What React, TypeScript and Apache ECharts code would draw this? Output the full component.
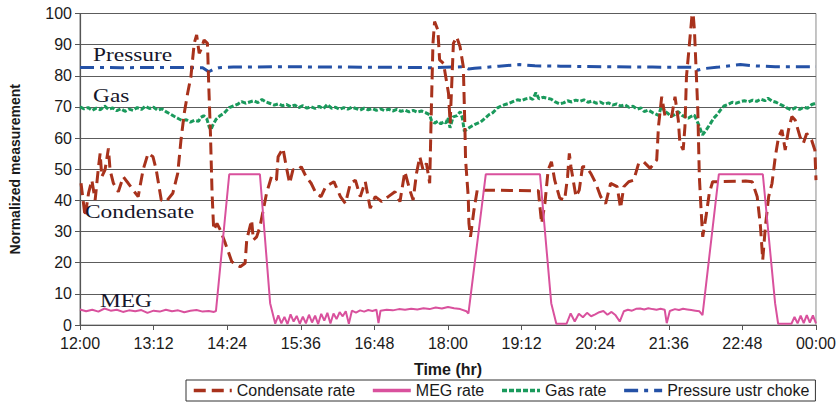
import React, { useEffect, useRef } from "react";
import * as echarts from "echarts";

// Time is in minutes of the day (720 = 12:00, 1440 = 00:00)
const condensateRate: [number, number][] = [
  [721, 45.5], [725, 34.8], [728.4, 42.4], [731.6, 46.5], [734.8, 40.1], [738.1, 50.8], [739.7, 55.1],
  [741.3, 47.6], [744.5, 49.8], [747.8, 56.7], [749.4, 49.8], [752.7, 45.5], [757.5, 42.8], [762.3, 47.6],
  [767.2, 45.5], [772, 43.3], [776.9, 41.2], [781.7, 49.8], [786.6, 55.1], [791.4, 54], [794.6, 49.8],
  [799.5, 40.1], [804.3, 39.6], [810.8, 42.3], [815.6, 48.7], [818.8, 59.4], [822, 68], [825.3, 74.4],
  [828.5, 79.7], [831.7, 90.4], [834.1, 93.1], [836.6, 87.2], [838.2, 88.3], [841.4, 91.5], [844.7, 90.4],
  [846, 76.5], [847.6, 61.6], [849.2, 42.3], [850.8, 30.5], [854, 32.6], [857.3, 30.5], [862.2, 26.2],
  [868.5, 20.3], [876.7, 18.7], [881.5, 19.8], [883.1, 27.3], [887.9, 33.7], [889.6, 27.3], [892.8, 28.3],
  [896.1, 31.6], [899.3, 36.9], [902.5, 42.3], [907.3, 47.6], [912.2, 46.5], [913.8, 54], [918.6, 56.7],
  [921.8, 50.8], [925.1, 45.5], [928.3, 49.8], [933.2, 49.8], [936.4, 50.8], [941.2, 47.6], [946.1, 45.5],
  [950.9, 42.3], [955.8, 41.2], [960.3, 44.4], [968.4, 46], [974.8, 41.2], [979.7, 39], [984.5, 45.5],
  [989.4, 46.5], [994.2, 41.2], [999.1, 46], [1003.9, 37.5], [1008.8, 41.2], [1015.2, 39.6], [1021.6, 41.2],
  [1028.1, 42.8], [1033, 39.6], [1037.8, 49.2], [1042.7, 43.3], [1045.9, 40.1], [1049.2, 48.7], [1052.4, 54],
  [1055.6, 49.8], [1058.9, 51.9], [1062.1, 45.5], [1063.7, 69], [1065.3, 90.4], [1066.9, 97.4], [1070.1, 94.7],
  [1071.8, 85.1], [1075.6, 84], [1080.5, 74.4], [1082.1, 64.7], [1085.3, 90.4], [1088.5, 92.5], [1091.8, 89.3],
  [1095, 82.9], [1096.6, 62.6], [1097.2, 53], [1099.8, 41.2], [1100.5, 32.6], [1102, 28.3], [1105.4, 36.9],
  [1108.6, 43.3], [1111.8, 43.3], [1168.4, 43.1], [1171.6, 32.6], [1174.8, 39], [1178, 49.8], [1181.2, 52.4],
  [1184.4, 46.5], [1189.3, 40.7], [1194.1, 40.1], [1197, 47.6], [1198.7, 55.1], [1200.3, 50.8], [1205.2, 41.2],
  [1208.4, 43.3], [1211.6, 50.8], [1214.9, 50.8], [1219.7, 48.7], [1224.6, 45.5], [1229.4, 41.2], [1234.2, 39],
  [1239.1, 45.5], [1245.5, 44.4], [1248.8, 37.5], [1252, 44.4], [1256.8, 46], [1261.7, 46.5], [1266.5, 51.9],
  [1271.4, 52.4], [1277.8, 50.3], [1284.2, 53], [1285.9, 63.7], [1289.1, 73.3], [1292.4, 66.9], [1298.8, 66.9],
  [1302.1, 73.3], [1305.3, 65.8], [1306.9, 58.3], [1310.1, 56.2], [1311.8, 63.7], [1313.3, 79.7], [1318.6, 99],
  [1319.8, 100], [1321.1, 94.7], [1324.4, 69], [1325.9, 47.6], [1327.6, 36.9], [1329.2, 28.3], [1332.4, 34.8],
  [1335.6, 42.3], [1338.9, 46], [1343.7, 46], [1371.2, 46.2], [1377.6, 46], [1382.5, 41.2], [1385.7, 31.6],
  [1387.9, 20.9], [1390.5, 31.6], [1393.7, 41.2], [1397, 45.5], [1400.2, 54], [1403.4, 60.4], [1406.7, 62.6],
  [1409.9, 56.2], [1413.1, 62.6], [1416.4, 66.9], [1419.6, 65.8], [1424.4, 60.4], [1427.6, 58.3], [1430.9, 61.5],
  [1435.7, 59.4], [1438.9, 56.2], [1440, 46.5],
];

const megRate: [number, number][] = [
  [720, 5.0], [726, 4.4], [732, 4.9], [738, 4.3], [744, 5.3], [750, 4.6], [756, 4.9], [762, 4.2], [768, 4.7],
  [774, 4.4], [780, 4.8], [786, 3.9], [792, 4.6], [798, 4.3], [804, 4.9], [810, 4.4], [816, 4.7], [822, 4.1],
  [828, 4.6], [834, 4.8], [840, 4.3], [846, 4.5], [851, 4.2], [853, 4.5], [866, 48.4], [896, 48.4], [906, 7],
  [911, 0.4], [914, 3.1], [917, 0.5], [920, 2.6], [923, 0.3], [926, 3.4], [929, 1.1], [932, 2.9], [935, 0.4],
  [938, 2.7], [941, 0.5], [944, 3.3], [947, 0.8], [950, 3.0], [953, 0.3], [956, 3.6], [959, 1.4], [962, 3.9],
  [965, 0.5], [968, 3.7], [971, 1.9], [974, 4.1], [977, 2.8], [980, 4.4], [983, 0.4], [986, 4.6], [990, 4.0],
  [994, 4.7], [998, 4.3], [1002, 4.8], [1006, 4.5], [1010, 4.9], [1012, 0.6], [1014, 4.6], [1020, 4.9],
  [1026, 4.7], [1032, 5.1], [1038, 4.9], [1044, 5.2], [1050, 5.0], [1056, 5.4], [1062, 5.1], [1068, 5.6],
  [1074, 5.3], [1080, 5.8], [1086, 5.4], [1092, 5.1], [1098, 4.4], [1100, 3.7], [1117, 48.4], [1170, 48.4],
  [1181, 7], [1186, 0.4], [1196, 0.4], [1200, 3.7], [1204, 1.1], [1208, 3.6], [1212, 2.5], [1216, 3.9],
  [1220, 2.8], [1224, 3.4], [1228, 4.1], [1232, 4.5], [1236, 3.3], [1240, 4.2], [1244, 3.1], [1248, 1.1],
  [1252, 4.4], [1256, 4.9], [1260, 4.6], [1264, 5.2], [1268, 5.3], [1272, 5.0], [1276, 5.4], [1280, 5.1],
  [1284, 4.9], [1288, 5.2], [1292, 4.9], [1294, 0.6], [1297, 4.5], [1302, 5.1], [1306, 4.8], [1310, 5.2],
  [1314, 5.0], [1318, 4.8], [1322, 4.6], [1326, 4.4], [1329, 3.2], [1345, 48.4], [1388, 48.4], [1400, 7],
  [1403, 0.4], [1416, 0.4], [1419, 2.6], [1422, 0.5], [1425, 3.0], [1428, 0.6], [1431, 3.2], [1434, 0.8],
  [1437, 3.1], [1440, 0.5],
];

const gasRate: [number, number][] = [
  [720, 70.0], [724, 69.4], [728, 69.8], [732, 68.9], [736, 69.6], [740, 69.1], [744, 70.3], [748, 69.2],
  [752, 69.7], [756, 68.8], [760, 69.4], [764, 68.6], [768, 69.3], [772, 68.9], [776, 69.8], [780, 69.2],
  [784, 70.2], [788, 69.5], [792, 69.9], [796, 68.9], [800, 69.4], [804, 68.5], [808, 67.8], [812, 67.0],
  [816, 66.3], [820, 65.6], [824, 65.9], [828, 65.1], [832, 65.7], [836, 65.4], [838, 66.6], [841, 67.2],
  [844, 66.2], [846.5, 63.5], [848, 62.6], [850, 64.2], [853, 66.0], [857, 67.2], [861, 68.0], [866, 69.8],
  [870, 70.3], [874, 70.8], [878, 71.7], [882, 71.2], [886, 71.6], [890, 72.0], [894, 71.4], [898, 72.4],
  [902, 71.6], [906, 71.1], [910, 70.6], [914, 71.0], [918, 70.4], [922, 70.8], [926, 70.1], [930, 70.6],
  [934, 69.8], [938, 70.4], [942, 69.6], [946, 70.1], [950, 69.5], [954, 70.2], [958, 69.4], [962, 70.8],
  [966, 69.6], [970, 69.9], [974, 69.2], [978, 69.8], [982, 69.3], [986, 69.9], [990, 69.5], [994, 69.0],
  [998, 69.6], [1002, 69.1], [1006, 69.5], [1010, 68.9], [1014, 69.4], [1018, 68.8], [1022, 69.3],
  [1026, 68.7], [1030, 69.2], [1034, 68.6], [1038, 69.0], [1042, 68.4], [1046, 68.9], [1050, 68.3],
  [1054, 68.7], [1058, 68.2], [1062, 67.5], [1064, 65.5], [1067, 64.8], [1070, 65.4], [1073, 64.6],
  [1076, 65.3], [1078, 64.8], [1080, 66.5], [1082, 63.3], [1085, 66.8], [1089, 67.2], [1092, 68.5],
  [1094, 66.5], [1096, 62.2], [1099, 63.0], [1103, 63.8], [1107, 64.5], [1112, 65.2], [1116, 66.3],
  [1120, 67.5], [1124, 68.2], [1128, 69.6], [1132, 70.3], [1136, 70.8], [1140, 71.2], [1144, 71.8],
  [1148, 72.3], [1152, 72.0], [1156, 72.6], [1160, 72.9], [1163, 72.4], [1166, 74.6], [1169, 72.6],
  [1173, 73.1], [1177, 72.8], [1181, 72.5], [1185, 71.6], [1189, 71.0], [1193, 71.3], [1197, 72.0],
  [1201, 71.6], [1205, 72.2], [1209, 71.8], [1213, 72.3], [1217, 71.5], [1221, 71.9], [1225, 71.2],
  [1229, 71.6], [1233, 70.9], [1237, 71.3], [1241, 70.6], [1245, 71.0], [1249, 70.3], [1253, 70.7],
  [1257, 69.9], [1261, 70.2], [1265, 69.3], [1269, 69.7], [1272, 68.5], [1276, 69.0], [1280, 68.2],
  [1284, 67.6], [1286, 67.3], [1289, 70.4], [1292, 68.6], [1295, 68.0], [1298, 66.9], [1302, 67.6],
  [1305, 68.5], [1309, 67.3], [1312, 66.8], [1315, 66.4], [1318, 67.0], [1321, 67.4], [1325, 64.5],
  [1329, 61.0], [1333, 62.8], [1337, 64.8], [1340, 66.4], [1344, 67.8], [1347, 69.2], [1350, 70.3],
  [1354, 70.8], [1358, 71.5], [1362, 71.2], [1366, 71.7], [1370, 72.0], [1374, 71.6], [1378, 72.2],
  [1382, 71.8], [1386, 72.5], [1390, 72.0], [1393, 72.8], [1397, 71.9], [1401, 71.5], [1405, 70.8],
  [1409, 70.2], [1412, 69.6], [1416, 69.0], [1420, 69.8], [1424, 69.2], [1428, 69.9], [1432, 69.6],
  [1436, 70.8], [1440, 71.2],
];

const pressureUstrChoke: [number, number][] = [
  [720, 82.7], [760, 82.6], [800, 82.7], [840, 82.6], [846, 81.3], [850, 82.0], [856, 82.6], [870, 82.8],
  [920, 82.9], [980, 82.8], [1040, 82.7], [1062, 82.6], [1095, 82.9], [1100, 82.2], [1106, 82.4],
  [1130, 83.1], [1150, 83.6], [1165, 83.2], [1190, 83.1], [1230, 82.9], [1280, 82.8], [1320, 82.7],
  [1324, 81.8], [1330, 82.3], [1345, 82.8], [1366, 83.6], [1380, 83.2], [1400, 82.9], [1440, 82.9],
];

const yTicks = { min: 0, max: 100, interval: 10 };
const xTicks = { min: 720, max: 1440, interval: 72 };

const seriesNames = ["Condensate rate", "MEG rate", "Gas rate", "Pressure ustr choke"];

// In-plot labels: [text, x, y]
const curveLabels: [string, number, number][] = [
  ["Pressure", 93, 55],
  ["Gas", 93, 96],
  ["Condensate", 85, 212],
  ["MEG", 100, 301],
];

const SANS = "'Liberation Sans', Arial, sans-serif";
const SERIF = "'Liberation Serif', 'Times New Roman', serif";

function formatClock(v: number): string {
  const total = Math.round(v);
  const h = Math.floor(total / 60) % 24;
  const m = total % 60;
  return `${String(h).padStart(2, "0")}:${String(m).padStart(2, "0")}`;
}

export default function App() {
  const ref = useRef<HTMLDivElement | null>(null);

  useEffect(() => {
    if (!ref.current) return;
    const chart = echarts.init(ref.current, undefined, { renderer: "svg" });

    chart.setOption({
      animation: false,
      backgroundColor: "#ffffff",
      textStyle: { fontFamily: SANS },
      grid: {
        left: 73,
        right: 23,
        top: 13.5,
        bottom: 78,
        show: true,
        borderColor: "#8a8a8a",
        borderWidth: 1,
        backgroundColor: "transparent",
      },
      legend: {
        data: seriesNames,
        left: 186,
        top: 380,
        orient: "horizontal",
        itemWidth: 38,
        itemHeight: 12,
        itemGap: 16,
        padding: [2, 6],
        borderColor: "#333",
        borderWidth: 1,
        borderRadius: 0,
        itemStyle: { opacity: 0, color: "transparent", borderColor: "transparent", borderWidth: 0 },
        lineStyle: { width: 3.5 },
        textStyle: { fontFamily: SANS, fontSize: 16, color: "#1a1a1a", lineHeight: 17 },
      },
      xAxis: {
        type: "value",
        min: xTicks.min,
        max: xTicks.max,
        interval: xTicks.interval,
        name: "Time (hr)",
        nameLocation: "middle",
        nameGap: 36,
        nameTextStyle: { fontFamily: SANS, fontSize: 16, fontWeight: "bold", color: "#1a1a1a" },
        axisLine: { show: true, onZero: false, lineStyle: { color: "#555", width: 1.2 } },
        axisTick: { show: true, length: 5, lineStyle: { color: "#555" } },
        axisLabel: {
          formatter: (v: number) => formatClock(v),
          fontFamily: SANS,
          fontSize: 16,
          color: "#1a1a1a",
          margin: 10,
          showMinLabel: true,
          showMaxLabel: true,
        },
        splitLine: { show: false },
      },
      yAxis: {
        type: "value",
        min: yTicks.min,
        max: yTicks.max,
        interval: yTicks.interval,
        name: "Normalized measurement",
        nameLocation: "middle",
        nameGap: 58,
        nameTextStyle: { fontFamily: SANS, fontSize: 14, fontWeight: "bold", color: "#1a1a1a" },
        axisLine: { show: true, lineStyle: { color: "#555", width: 1.2 } },
        axisTick: { show: true, length: 5, lineStyle: { color: "#555" } },
        axisLabel: { fontFamily: SANS, fontSize: 16, color: "#1a1a1a", margin: 8 },
        splitLine: { show: true, lineStyle: { color: "#5c5c5c", width: 1.2 } },
      },
      series: [
        {
          name: "Gas rate",
          type: "line",
          data: gasRate,
          symbol: "none",
          z: 2,
          lineStyle: { color: "#1a9a5c", width: 3, type: [5, 2] },
          itemStyle: { color: "#1a9a5c" },
        },
        {
          name: "Pressure ustr choke",
          type: "line",
          data: pressureUstrChoke,
          symbol: "none",
          z: 2,
          lineStyle: { color: "#2451a6", width: 3, type: [14, 6, 4, 6] },
          itemStyle: { color: "#2451a6" },
        },
        {
          name: "Condensate rate",
          type: "line",
          data: condensateRate,
          symbol: "none",
          z: 3,
          lineStyle: { color: "#a8321c", width: 3, type: [12, 6] },
          itemStyle: { color: "#a8321c" },
        },
        {
          name: "MEG rate",
          type: "line",
          data: megRate,
          symbol: "none",
          z: 4,
          lineStyle: { color: "#d9519d", width: 2 },
          itemStyle: { color: "#d9519d" },
        },
      ],
      graphic: curveLabels.map(([text, x, y]) => ({
        type: "text",
        x,
        y,
        scaleX: 1.3,
        z: 10,
        style: {
          text,
          fontFamily: SERIF,
          fontSize: 18,
          fill: "#16162a",
          verticalAlign: "middle",
        },
      })),
    });

    return () => chart.dispose();
  }, []);

  return (
    <div
      ref={ref}
      style={{ position: "fixed", left: 0, top: 0, width: 839, height: 403, background: "#fff" }}
    />
  );
}
